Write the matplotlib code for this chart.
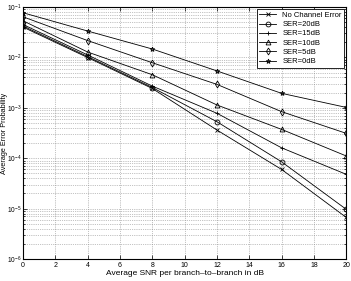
import matplotlib
matplotlib.use('Agg')
import matplotlib.pyplot as plt
from matplotlib.ticker import LogLocator, NullFormatter

plt.rcParams['font.family'] = ['Liberation Sans', 'DejaVu Sans']
plt.rcParams['mathtext.fontset'] = 'custom'
plt.rcParams['mathtext.rm'] = 'Liberation Sans'

snr = [0, 4, 8, 12, 16, 20]

no_err = [0.040, 0.00995, 0.00242, 0.000363, 6.0e-5, 6.7e-6]
ser20 = [0.042, 0.0104, 0.00253, 0.00053, 8.5e-5, 9.7e-6]
ser15 = [0.045, 0.0112, 0.0027, 0.00078, 0.000161, 4.8e-5]
ser10 = [0.0534, 0.0128, 0.00454, 0.00114, 0.000374, 0.000111]
ser5 = [0.064, 0.0216, 0.00785, 0.00292, 0.00084, 0.000312]
ser0 = [0.077, 0.0334, 0.0147, 0.0054, 0.00194, 0.00102]

series = [
    (no_err, 'x', 'No Channel Error'),
    (ser20, 'o', 'SER=20dB'),
    (ser15, '+', 'SER=15dB'),
    (ser10, '^', 'SER=10dB'),
    (ser5, 'd', 'SER=5dB'),
    (ser0, '*', 'SER=0dB'),
]

fig = plt.figure(figsize=(3.51, 2.81), dpi=100)
ax = fig.add_axes([0.0655, 0.078, 0.921, 0.897])

for vals, mk, lab in series:
    ax.semilogy(snr, vals, '-', color='k', lw=0.6, marker=mk,
                markersize=3.5, markerfacecolor='none', markeredgewidth=0.6,
                label=lab)

ax.set_xlim(0, 20)
ax.set_ylim(1e-6, 1e-1)
ax.set_xticks(range(0, 21, 2))
ax.yaxis.set_major_locator(LogLocator(base=10, numticks=10))
ax.yaxis.set_minor_locator(LogLocator(base=10, subs=range(2, 10), numticks=10))
ax.yaxis.set_minor_formatter(NullFormatter())

ax.grid(True, which='major', linestyle=':', color='#888888', lw=0.5)
ax.grid(True, which='minor', axis='y', linestyle=':', color='#888888', lw=0.5)
ax.tick_params(which='both', direction='in', labelsize=5, width=0.5,
               top=True, right=True, pad=2)
ax.tick_params(axis='y', labelsize=4.8, pad=1)
ax.tick_params(which='major', length=3)
ax.tick_params(which='minor', length=1.5)
for s in ax.spines.values():
    s.set_linewidth(0.8)

ax.set_xlabel('Average SNR per branch\u2013to\u2013branch in dB', fontsize=6, labelpad=1)
ax.set_ylabel('Average Error Probability', fontsize=5.2)
ax.yaxis.label.set_verticalalignment('center')
ax.yaxis.set_label_coords(-0.058, 0.5)

leg = ax.legend(loc='upper right', fontsize=5.5, frameon=True, fancybox=False,
                edgecolor='k', framealpha=1, borderaxespad=0.3,
                handlelength=2.2, labelspacing=0.25, borderpad=0.3)
leg.get_frame().set_linewidth(0.6)

fig.savefig('out.png', dpi=100)
